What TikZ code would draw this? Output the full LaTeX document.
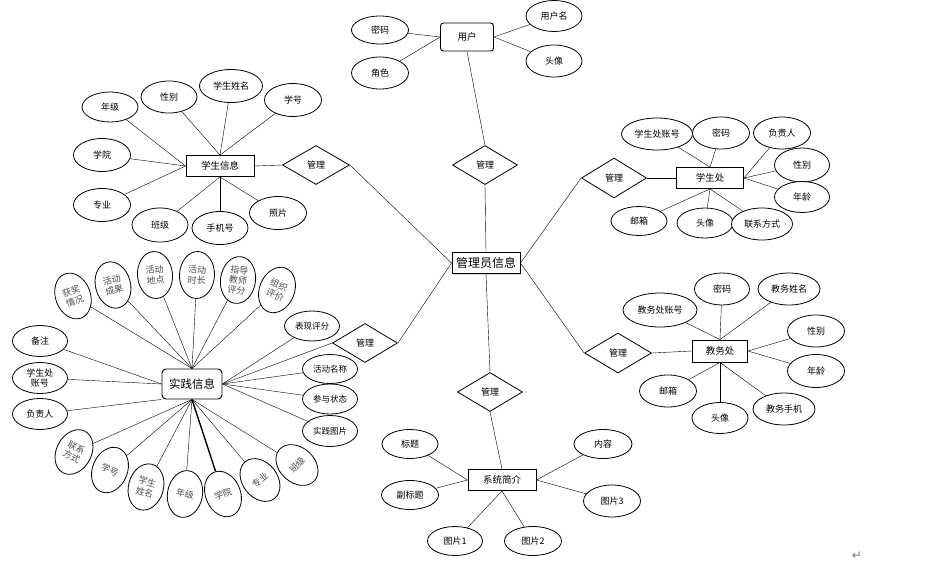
\documentclass[tikz,border=0pt]{standalone}
\usepackage{fontspec}
\newfontfamily\cjk{Noto Sans CJK SC}
\newfontfamily\dejavu{DejaVu Sans}
\usetikzlibrary{shapes.geometric,backgrounds,shadows}
\tikzset{
  base/.style={draw, line width=0.8pt, fill=white, inner sep=0pt},
  attr/.style={base, ellipse, minimum width=56, minimum height=32, align=center, font=\cjk\fontsize{9}{10.5}\selectfont},
  smallattr/.style={attr, minimum width=55, minimum height=30, font=\cjk\fontsize{8.5}{10}\selectfont},
  fanattr/.style={base, ellipse, minimum width=35, minimum height=47, align=center, text=black!70, font=\cjk\fontsize{9}{10.5}\selectfont},
  ent/.style={draw, line width=0.9pt, fill=white, minimum width=68, minimum height=21, inner sep=2pt, font=\cjk\fontsize{9.5}{11}\selectfont},
  rel/.style={base, diamond, minimum width=65, minimum height=39, font=\cjk\fontsize{9}{10}\selectfont},
  link/.style={line width=0.8pt}
}
\begin{document}
\begin{tikzpicture}[x=1pt,y=-1pt]
\useasboundingbox (0,0) rectangle (951,568);

% ---- user
\node[ent, rounded corners=3pt, minimum width=53, minimum height=28] (user) at (467,37) {用户};
\node[attr, minimum width=57, minimum height=28] (upw) at (380,30) {密码};
\node[attr, minimum width=57] (urole) at (380,73) {角色};
\node[attr, minimum height=31] (uname) at (554,16) {用户名};
\node[attr] (uava) at (554,61) {头像};

% ---- admin and relations
\node[ent, line width=1pt, minimum width=68, minimum height=21, font=\cjk\fontsize{12}{14}\selectfont,
      drop shadow={opacity=0.35, shadow xshift=1pt, shadow yshift=-1pt}] (admin) at (486,263) {管理员信息};
\node[rel] (r1) at (485,165) {管理};
\node[rel, minimum width=67] (r2) at (316,165) {管理};
\node[rel] (r3) at (365,343) {管理};
\node[rel, minimum height=40] (r4) at (614,178) {管理};
\node[rel, minimum width=67, minimum height=40] (r5) at (618,353) {管理};
\node[rel] (r6) at (490,392) {管理};

% ---- student info
\node[ent] (stu) at (220,166) {学生信息};
\node[attr, minimum height=30] (s1) at (110,107) {年级};
\node[attr] (s2) at (169,97) {性别};
\node[attr, minimum width=63, minimum height=33] (s3) at (231,86) {学生姓名};
\node[attr, minimum width=57, minimum height=33] (s4) at (293,100) {学号};
\node[attr, minimum width=57, minimum height=33] (s5) at (102,155) {学院};
\node[attr, minimum width=57, minimum height=33] (s6) at (102,205) {专业};
\node[attr, minimum height=34] (s7) at (160,225) {班级};
\node[attr, minimum height=33] (s8) at (220,228) {手机号};
\node[attr, minimum width=57, minimum height=33] (s9) at (278,213) {照片};

% ---- student office
\node[ent, minimum width=67] (sx) at (710,178) {学生处};
\node[attr, minimum width=71] (x1) at (657,134) {学生处账号};
\node[attr, minimum width=57] (x2) at (721,133) {密码};
\node[attr, minimum width=57] (x3) at (782,133) {负责人};
\node[attr, minimum width=55, minimum height=34] (x4) at (802,165) {性别};
\node[attr, minimum width=55, minimum height=31] (x5) at (802,197) {年龄};
\node[attr, minimum height=29] (x6) at (639,221) {邮箱};
\node[attr, minimum height=30] (x7) at (705,223) {头像};
\node[attr, minimum width=61] (x8) at (762,224) {联系方式};

% ---- academic office
\node[ent, minimum width=55, minimum height=22] (jw) at (720,351) {教务处};
\node[attr, minimum width=74, minimum height=34] (j1) at (660,310) {教务处账号};
\node[attr, minimum width=55] (j2) at (722,289) {密码};
\node[attr, minimum width=62] (j3) at (789,289) {教务姓名};
\node[attr, minimum width=57] (j4) at (816,331) {性别};
\node[attr, minimum width=57, minimum height=33] (j5) at (816,371) {年龄};
\node[attr, minimum width=57] (j6) at (668,391) {邮箱};
\node[attr, minimum height=31] (j7) at (720,418) {头像};
\node[attr, minimum width=62] (j8) at (784,409) {教务手机};

% ---- system intro
\node[ent] (sys) at (502,480) {系统简介};
\node[attr, minimum height=29] (y1) at (410,444) {标题};
\node[attr, minimum width=57, minimum height=29] (y2) at (410,495) {副标题};
\node[attr, minimum width=55, minimum height=29] (y3) at (455,541) {图片1};
\node[attr, minimum width=57, minimum height=29] (y4) at (533,541) {图片2};
\node[attr, minimum width=58, minimum height=29] (y5) at (603,444) {内容};
\node[attr, minimum width=57] (y6) at (612,501) {图片3};

% ---- practice info
\node[ent, rounded corners=4pt, minimum width=60, minimum height=30, font=\cjk\fontsize{11.5}{13}\selectfont] (sj) at (192,384) {实践信息};
\node[attr, minimum width=55, minimum height=31] (p1) at (40,341) {备注};
\node[attr, minimum width=55, minimum height=31] (p2) at (40,378) {学生处\\账号};
\node[attr, minimum width=55, minimum height=31] (p3) at (40,414) {负责人};
\node[smallattr] (q1) at (312,326) {表现评分};
\node[smallattr, minimum height=29] (q2) at (330,369) {活动名称};
\node[smallattr] (q3) at (330,399) {参与状态};
\node[smallattr, minimum height=31] (q4) at (330,431) {实践图片};
% top fan
\node[fanattr, rotate=20] (t1) at (73,296) {获奖\\情况};
\node[fanattr, rotate=15] (t2) at (113,285) {活动\\成果};
\node[fanattr, rotate=5] (t3) at (155,275) {活动\\地点};
\node[fanattr, rotate=-3] (t4) at (197,275) {活动\\时长};
\node[fanattr, rotate=-8, font=\cjk\fontsize{9}{10}\selectfont] (t5) at (238,280) {指导\\教师\\评分};
\node[fanattr, rotate=-22] (t6) at (277,290) {组织\\评价};
% bottom fan
\node[fanattr, rotate=-28] (b1) at (74,452) {联系\\方式};
\node[fanattr, rotate=-22] (b2) at (110,470) {学号};
\node[fanattr, rotate=-15] (b3) at (146,487) {学生\\姓名};
\node[fanattr, rotate=-10] (b4) at (185,494) {年级};
\node[fanattr, rotate=22] (b5) at (223,494) {学院};
\node[fanattr, rotate=38] (b6) at (260,480) {专业};
\node[fanattr, rotate=48] (b7) at (297,465) {班级};

% return mark
\node[text=black!55, font=\dejavu\fontsize{12}{12}\selectfont, inner sep=0pt] (ret) at (857,556) {↵};

% ---- connectors
\begin{scope}[on background layer, link]
  \draw (upw) -- (user.west);
  \draw (urole) -- (user.west);
  \draw (user.east) -- (uname);
  \draw (user.east) -- (uava);
  \draw (user.south) -- (r1.north);
  \draw (r1.south) -- (admin.north);
  \draw (stu.east) -- (r2.west);
  \draw (r2.east) -- (admin.west);
  \draw (sj.east) -- (r3.west);
  \draw (r3.east) -- (admin.west);
  \draw (admin.east) -- (r4.west);
  \draw (r4.east) -- (sx.west);
  \draw (admin.east) -- (r5.west);
  \draw (r5.east) -- (jw.west);
  \draw (admin.south) -- (r6.north);
  \draw (r6.south) -- (sys.north);
  % student info
  \draw (s1) -- (stu.west);
  \draw (s2) -- (stu.north);
  \draw (s3) -- (stu.north);
  \draw (s4) -- (stu.north);
  \draw (s5) -- (stu.west);
  \draw (s6) -- (stu.west);
  \draw (s7) -- (stu.south);
  \draw (s8) -- (stu.south);
  \draw (s9) -- (stu.south);
  % student office
  \draw (x1) -- (sx.north);
  \draw (x2) -- (sx.north);
  \draw (x3) -- (sx.east);
  \draw (x4) -- (sx.east);
  \draw (x5) -- (sx.east);
  \draw (x6) -- (sx.south);
  \draw (x7) -- (sx.south);
  \draw (x8) -- (sx.south);
  % academic office
  \draw (j1) -- (jw.north);
  \draw (j2) -- (jw.north);
  \draw (j3) -- (jw.north);
  \draw (j4) -- (jw.east);
  \draw (j5) -- (jw.east);
  \draw (j6) -- (jw.south);
  \draw (j7) -- (jw.south);
  \draw (j8) -- (jw.south);
  % system intro
  \draw (y1) -- (sys.west);
  \draw (y2) -- (sys.west);
  \draw (y3) -- (sys.south);
  \draw (y4) -- (sys.south);
  \draw (y5) -- (sys.east);
  \draw (y6) -- (sys.east);
  % practice info
  \draw (p1) -- (sj.west);
  \draw (p2) -- (sj.west);
  \draw (p3) -- (sj.south west);
  \draw (q1) -- (sj.east);
  \draw (q2) -- (sj.east);
  \draw (q3) -- (sj.east);
  \draw (q4) -- (sj.east);
  \draw (t1) -- (sj.north);
  \draw (t2) -- (sj.north);
  \draw (t3) -- (sj.north);
  \draw (t4) -- (sj.north);
  \draw (t5) -- (sj.north);
  \draw (t6) -- (sj.north);
  \draw (b1) -- (sj.south);
  \draw (b2) -- (sj.south);
  \draw (b3) -- (sj.south);
  \draw (b4) -- (sj.south);
  \draw[line width=1.4pt] (b5) -- (sj.south);
  \draw (b6) -- (sj.south);
  \draw (b7) -- (sj.south);
\end{scope}
\end{tikzpicture}
\end{document}
